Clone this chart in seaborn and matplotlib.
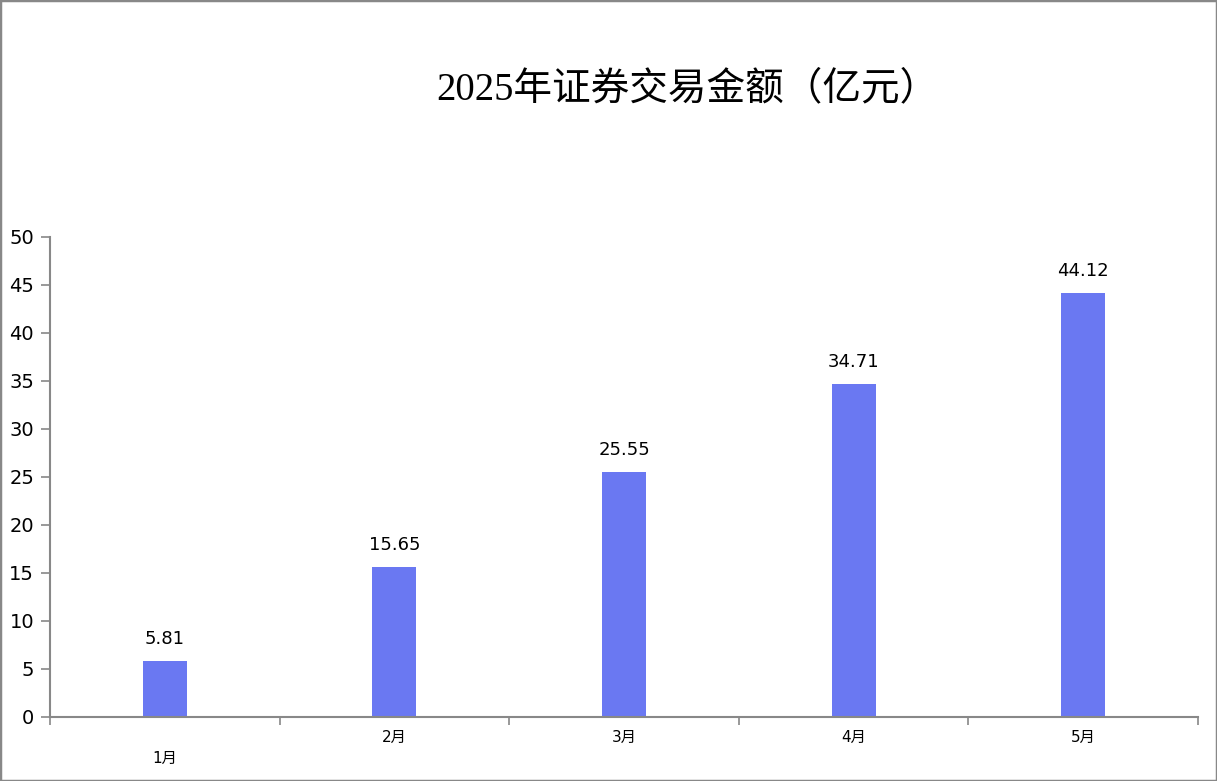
import matplotlib
matplotlib.use("Agg")
import matplotlib.pyplot as plt
import pandas as pd
import seaborn as sns
from matplotlib.patches import Rectangle

months = ["1月", "2月", "3月", "4月", "5月"]
amounts = [5.81, 15.65, 25.55, 34.71, 44.12]
title = "2025年证券交易金额（亿元）"

sns.set_theme(style="white")
plt.rcParams["font.family"] = ["DejaVu Sans", "Noto Sans CJK SC"]
plt.rcParams["text.color"] = "black"
plt.rcParams["xtick.color"] = "black"
plt.rcParams["ytick.color"] = "black"

df = pd.DataFrame({"month": months, "amount": amounts})

fig = plt.figure(figsize=(12.17, 7.81), dpi=100)
ax = fig.add_axes([50 / 1217, 1 - 717 / 781, 1148 / 1217, 480 / 781])

sns.barplot(data=df, x="month", y="amount", color="#6a78f2", width=0.192,
            saturation=1, linewidth=0, ax=ax)

for i, v in enumerate(amounts):
    ax.text(i, v + 2.3, f"{v:.2f}", ha="center", va="center", fontsize=13, color="black")

ax.set_xlim(-0.5, 4.5)
ax.set_ylim(0, 50)
ax.set_yticks(range(0, 51, 5))
ax.set_xlabel("")
ax.set_ylabel("")

ax.set_xticks([x - 0.5 for x in range(6)])
ax.set_xticklabels([])
ax.set_xticks(range(5), minor=True)
ax.set_xticklabels(months, minor=True, fontsize=11)
ax.tick_params(axis="x", which="major", direction="out", length=6, color="#888888", width=1.2, bottom=True)
ax.tick_params(axis="x", which="minor", length=0, pad=9.5)
ax.tick_params(axis="y", direction="out", length=6.5, color="#888888", width=1.2, labelsize=14, pad=5, left=True)

# the first label sits lower in the original
ax.xaxis.get_minor_ticks()[0].label1.set_y(-0.044)

for s in ["top", "right"]:
    ax.spines[s].set_visible(False)
for s in ["left", "bottom"]:
    ax.spines[s].set_color("#888888")
    ax.spines[s].set_linewidth(1.5)

fig.text(687 / 1217, 1 - 90 / 781, title, ha="center", va="center", fontsize=27.8,
         color="black", family=["Liberation Serif", "Noto Sans CJK SC"])

fig.patches.append(Rectangle((0, 0), 1, 1, transform=fig.transFigure, fill=False,
                             edgecolor="#888888", linewidth=2.5))

fig.savefig("out.png", dpi=100)
